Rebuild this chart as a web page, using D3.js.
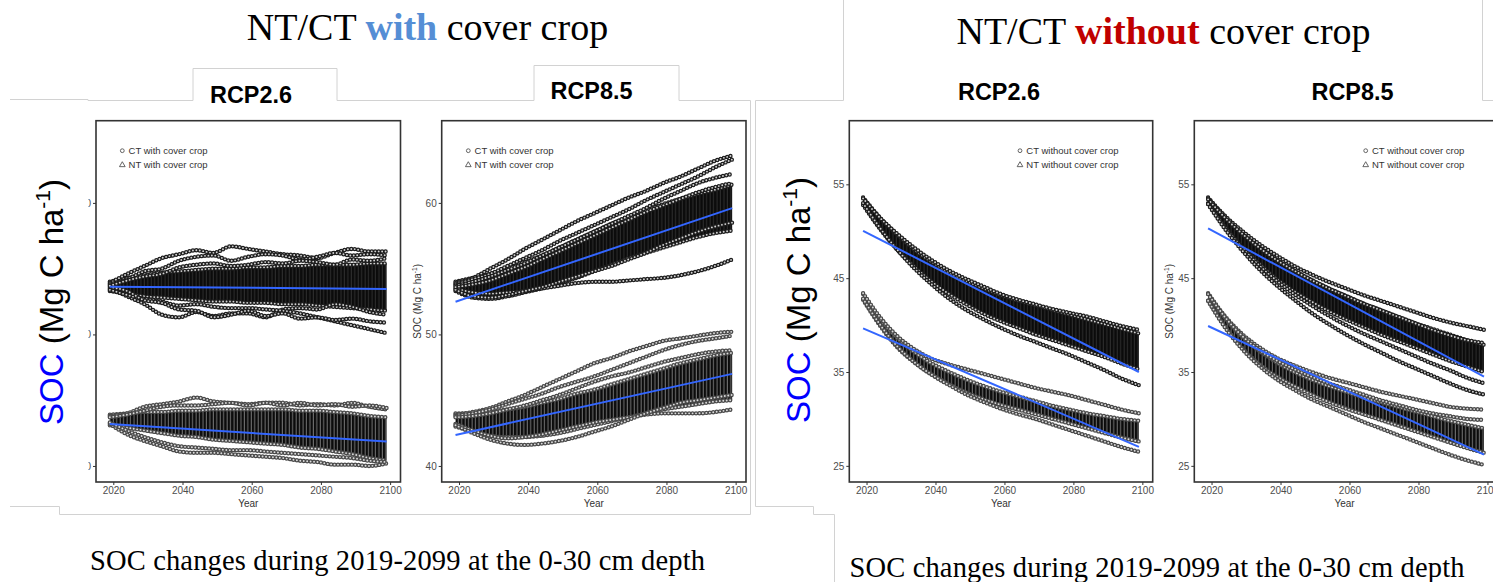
<!DOCTYPE html>
<html><head><meta charset="utf-8">
<script src="https://cdn.jsdelivr.net/npm/d3@7"></script>
<style>
body{margin:0;background:#fff;}
svg{display:block;}
</style></head><body>
<svg id="c" width="1493" height="582"></svg>
<script>
// ---------------- DATA ----------------
const years = [2019,2024,2029,2034,2039,2044,2049,2054,2059,2064,2069,2074,2079,2084,2089,2094,2099];
const fitYears = [2019, 2099];
const xTicks = [2020,2040,2060,2080,2100];
const yTicksWith = [40,50,60];
const yTicksWithout = [25,35,45,55];

// Panel 1 : with cover crop, RCP2.6
const p1NtLo = [53.3,53.1,52.9,52.8,52.7,52.6,52.5,52.5,52.4,52.4,52.3,52.3,52.2,52.1,52.0,51.9,51.8];
const p1NtHi = [54.0,54.3,54.5,54.7,54.8,54.9,55.0,55.0,55.1,55.1,55.2,55.2,55.3,55.3,55.3,55.4,55.4];
const p1NtLines = [
 [53.9,54.6,55.2,55.8,56.1,56.4,56.2,56.7,56.5,56.3,56.1,56.0,55.8,56.2,56.5,56.3,56.3],
 [53.8,54.2,54.8,55.0,55.6,55.9,56.0,55.6,55.9,56.1,56.0,55.7,55.9,56.2,56.0,56.1,56.0],
 [53.5,52.9,52.3,51.5,51.3,51.7,51.4,51.6,51.6,51.3,51.9,52.0,51.9,52.3,52.1,51.7,51.5],
 [53.4,53.0,52.7,52.5,52.2,52.3,52.1,52.0,52.0,51.9,51.8,51.6,51.3,51.0,50.7,50.4,50.1],
 [53.6,53.3,52.6,52.4,51.9,51.8,51.3,51.5,51.8,51.4,51.6,51.2,51.3,51.1,51.2,51.0,50.9],
 [53.7,54.1,54.4,54.6,55.1,55.3,55.4,55.2,55.3,55.5,55.4,55.6,55.5,55.3,55.7,55.6,55.8]
];
const p1NtFit = [53.63,53.46];
const p1CtLo = [43.1,42.9,42.7,42.5,42.3,42.2,42.0,41.9,41.8,41.7,41.6,41.4,41.3,41.1,40.9,40.6,40.4];
const p1CtHi = [43.9,44.0,44.1,44.1,44.2,44.2,44.3,44.3,44.3,44.3,44.3,44.2,44.2,44.1,44.0,43.8,43.7];
const p1CtLines = [
 [43.8,44.0,44.5,44.7,44.9,45.2,44.9,44.8,44.7,44.8,44.8,44.6,44.7,44.6,44.8,44.5,44.3],
 [43.7,43.9,44.2,44.5,44.6,44.6,44.7,44.8,44.6,44.8,44.6,44.8,44.6,44.7,44.5,44.6,44.4],
 [43.2,42.4,41.9,41.5,41.1,41.0,41.0,40.9,40.8,40.7,40.6,40.4,40.3,40.1,40.1,40.0,40.2],
 [43.3,42.7,42.2,41.8,41.5,41.4,41.3,41.2,41.2,41.1,41.0,40.9,40.8,40.7,40.6,40.4,40.3]
];
const p1CtFit = [43.19,41.85];

// Panel 2 : with cover crop, RCP8.5
const p2NtLo = [53.3,52.8,52.7,52.9,53.2,53.5,53.9,54.3,54.8,55.3,55.8,56.2,56.6,57.0,57.4,57.7,57.9];
const p2NtHi = [54.0,54.3,54.6,55.0,55.5,56.0,56.6,57.2,57.8,58.4,58.9,59.4,59.9,60.3,60.7,61.0,61.4];
const p2NtLines = [
 [53.9,54.3,55.0,55.7,56.5,57.2,57.9,58.6,59.2,59.8,60.4,60.9,61.5,62.0,62.6,63.2,63.6],
 [53.8,54.2,54.6,55.2,55.8,56.4,57.1,57.7,58.3,58.9,59.5,60.2,60.8,61.4,62.0,62.7,63.3],
 [53.7,54.0,54.4,54.9,55.4,56.0,56.6,57.2,57.8,58.4,59.0,59.6,60.3,60.9,61.5,61.9,62.2],
 [53.5,53.2,53.1,53.2,53.3,53.5,53.7,53.9,54.0,54.0,54.1,54.2,54.3,54.5,54.8,55.2,55.7],
 [53.4,52.9,52.8,53.0,53.3,53.6,54.0,54.4,54.8,55.2,55.7,56.2,56.8,57.3,57.8,58.2,58.5],
 [53.6,53.8,54.1,54.6,55.1,55.7,56.3,56.9,57.5,58.1,58.7,59.3,59.8,60.3,60.8,61.2,61.5]
];
const p2NtFit = [52.49,59.6];
const p2CtLo = [43.0,42.6,42.3,42.2,42.2,42.3,42.5,42.8,43.1,43.4,43.7,44.0,44.3,44.5,44.7,44.9,45.0];
const p2CtHi = [44.0,44.0,44.1,44.3,44.5,44.8,45.1,45.5,45.8,46.2,46.6,47.0,47.4,47.8,48.1,48.4,48.6];
const p2CtLines = [
 [43.9,44.1,44.4,44.9,45.4,46.0,46.6,47.2,47.8,48.2,48.7,49.1,49.5,49.7,49.9,50.1,50.2],
 [43.8,44.0,44.3,44.7,45.1,45.5,46.0,46.4,46.8,47.3,47.8,48.3,48.8,49.2,49.5,49.7,49.9],
 [43.7,43.8,44.0,44.3,44.6,45.0,45.4,45.9,46.4,46.8,47.1,47.5,47.9,48.2,48.5,48.7,48.8],
 [43.2,42.7,42.3,42.1,42.2,42.4,42.7,43.0,43.3,43.5,43.7,43.9,44.0,44.0,44.0,44.1,44.3],
 [43.1,42.5,42.0,41.7,41.6,41.7,41.9,42.2,42.6,43.0,43.5,44.0,44.4,44.8,45.0,45.2,45.4]
];
const p2CtFit = [42.36,47.0];

// Panel 3 : without cover crop, RCP2.6
const p3NtLo = [52.8,50.2,48.0,46.2,44.6,43.3,42.2,41.2,40.4,39.7,39.0,38.4,37.8,37.2,36.6,35.9,35.3];
const p3NtHi = [53.6,51.4,49.6,48.0,46.7,45.6,44.7,43.9,43.2,42.6,42.1,41.6,41.1,40.6,40.1,39.6,39.1];
const p3NtLines = [
 [53.0,50.3,48.0,46.0,44.3,42.8,41.6,40.6,39.7,38.9,38.2,37.5,36.8,36.0,35.2,34.3,33.6],
 [53.5,51.4,49.7,48.2,46.9,45.8,44.9,44.1,43.3,42.7,42.2,41.7,41.3,40.9,40.4,39.9,39.5]
];
const p3NtFit = [50.05,35.0];
const p3CtLo = [42.7,39.9,37.6,36.0,34.7,33.7,32.8,32.1,31.5,31.0,30.5,30.0,29.5,29.0,28.5,28.0,27.6];
const p3CtHi = [43.3,40.6,38.6,37.1,35.9,35.0,34.2,33.5,32.9,32.4,31.9,31.4,31.0,30.6,30.3,30.0,29.8];
const p3CtLines = [
 [43.4,40.8,38.8,37.4,36.4,35.8,35.3,34.8,34.3,33.8,33.3,32.9,32.5,32.0,31.5,31.0,30.6],
 [42.8,40.0,37.7,36.0,34.7,33.6,32.6,31.8,31.1,30.5,30.0,29.4,28.8,28.2,27.6,27.0,26.5]
];
const p3CtFit = [39.65,27.03];

// Panel 4 : without cover crop, RCP8.5
const p4NtLo = [52.9,50.4,48.3,46.5,44.9,43.6,42.5,41.5,40.6,39.8,39.0,38.3,37.6,36.9,36.2,35.6,35.0];
const p4NtHi = [53.6,51.5,49.7,48.2,46.9,45.8,44.8,43.9,43.1,42.3,41.6,40.9,40.2,39.6,39.0,38.4,37.9];
const p4NtLines = [
 [53.5,51.6,50.0,48.6,47.4,46.3,45.4,44.6,43.9,43.2,42.6,42.0,41.4,40.8,40.3,39.9,39.5],
 [53.4,51.4,49.7,48.2,46.9,45.8,44.8,43.9,43.1,42.3,41.6,40.9,40.2,39.5,38.9,38.4,38.1],
 [53.0,50.4,48.2,46.3,44.7,43.3,42.1,41.0,40.0,39.1,38.3,37.5,36.7,35.9,35.2,34.4,33.8],
 [52.9,50.2,47.9,45.9,44.2,42.7,41.3,40.1,39.0,38.0,37.1,36.2,35.4,34.6,33.8,33.1,32.6]
];
const p4NtFit = [50.3,34.5];
const p4CtLo = [42.6,39.8,37.5,35.8,34.5,33.5,32.6,31.8,31.1,30.5,29.9,29.3,28.7,28.1,27.5,26.9,26.4];
const p4CtHi = [43.3,40.7,38.7,37.2,36.0,35.0,34.2,33.5,32.9,32.3,31.8,31.3,30.8,30.3,29.8,29.4,29.0];
const p4CtLines = [
 [43.4,40.9,39.0,37.6,36.5,35.7,35.0,34.4,33.9,33.4,32.9,32.5,32.1,31.7,31.3,31.1,31.0],
 [43.3,40.8,38.8,37.3,36.2,35.3,34.5,33.8,33.2,32.6,32.0,31.5,31.0,30.6,30.3,30.0,29.9],
 [42.6,39.7,37.4,35.6,34.2,33.1,32.1,31.3,30.5,29.7,29.0,28.3,27.6,26.9,26.2,25.6,25.1]
];
const p4CtFit = [39.9,26.2];

const legendWith = ["CT with cover crop","NT with cover crop"];
const legendWithout = ["CT without cover crop","NT without cover crop"];

// ---------------- DRAWING ----------------
const svg = d3.select("#c");
const SANS = "'Liberation Sans', Arial, sans-serif";
const SERIF = "'Liberation Serif', 'Times New Roman', serif";
const defs = svg.append("defs");

function makePattern(id, bg, stripe){
  const p = defs.append("pattern").attr("id", id).attr("patternUnits","userSpaceOnUse")
    .attr("width", 3.45).attr("height", 8);
  p.append("rect").attr("width",3.45).attr("height",8).attr("fill",bg);
  p.append("rect").attr("x",2.4).attr("width",0.9).attr("height",8).attr("fill",stripe);
}
makePattern("patNT","#0b0b0b","#333");
makePattern("patCT","#0b0b0b","#808080");

// decorative frame lines
const frame = svg.append("g").attr("fill","none").attr("stroke","#d2d2d2").attr("stroke-width",1);
[
 "M10,99.5 H88 V100.5 H193 V68.5 H337 V100.5 H534 V65.5 H679 V100.5 H750.5 V514.5 H59.5 V506.5 H10",
 "M755.5,100.5 V506.5 H813.5 V514.5 H834.5 V582",
 "M755.5,100.5 H843.5 V0",
 "M1482.5,0 V100.5 H1493"
].forEach(d => frame.append("path").attr("d", d));

const TOP = 120.7, BOT = 482;

const panels = [
 {left:96, right:400.5, yDom:[38.78,66.25], yTicks:yTicksWith,
  nt:{lo:p1NtLo,hi:p1NtHi,lines:p1NtLines,fit:p1NtFit},
  ct:{lo:p1CtLo,hi:p1CtHi,lines:p1CtLines,fit:p1CtFit},
  legend:legendWith, legX:122.3, yTitle:false, clipYLabels:88.5},
 {left:441.7, right:746, yDom:[38.78,66.25], yTicks:yTicksWith,
  nt:{lo:p2NtLo,hi:p2NtHi,lines:p2NtLines,fit:p2NtFit},
  ct:{lo:p2CtLo,hi:p2CtHi,lines:p2CtLines,fit:p2CtFit},
  legend:legendWith, legX:468.3, yTitle:true},
 {left:849.3, right:1152.7, yDom:[23.28,61.78], yTicks:yTicksWithout,
  nt:{lo:p3NtLo,hi:p3NtHi,lines:p3NtLines,fit:p3NtFit},
  ct:{lo:p3CtLo,hi:p3CtHi,lines:p3CtLines,fit:p3CtFit},
  legend:legendWithout, legX:1020, yTitle:false},
 {left:1194.3, right:1497.8, yDom:[23.28,61.78], yTicks:yTicksWithout,
  nt:{lo:p4NtLo,hi:p4NtHi,lines:p4NtLines,fit:p4NtFit},
  ct:{lo:p4CtLo,hi:p4CtHi,lines:p4CtLines,fit:p4CtFit},
  legend:legendWithout, legX:1365.7, yTitle:true}
];

panels.forEach((P, idx) => {
  const x = d3.scaleLinear().domain([2015,2103]).range([P.left, P.right]);
  const y = d3.scaleLinear().domain(P.yDom).range([BOT, TOP]);
  const cid = "clip" + idx;
  defs.append("clipPath").attr("id", cid).append("rect")
    .attr("x", P.left+1).attr("y", TOP+1).attr("width", P.right-P.left-2).attr("height", BOT-TOP-2);
  const g = svg.append("g").attr("clip-path", `url(#${cid})`);

  const line = d3.line().x((d,i)=>x(years[i])).y(d=>y(d)).curve(d3.curveMonotoneX);
  const area = d3.area().x((d,i)=>x(years[i])).y0((d,i)=>y(d[0])).y1(d=>y(d[1])).curve(d3.curveMonotoneX);

  function ring(vals, col){
    g.append("path").attr("d", line(vals)).attr("fill","none")
      .attr("stroke", col).attr("stroke-width", 4.4).attr("stroke-linecap","round")
      .attr("stroke-dasharray","0 3.45");
    g.append("path").attr("d", line(vals)).attr("fill","none")
      .attr("stroke", "#fff").attr("stroke-opacity",0.8).attr("stroke-width", 1.9).attr("stroke-linecap","round")
      .attr("stroke-dasharray","0 3.45");
  }

  function group(G, pat, col){
    const bandData = G.lo.map((v,i)=>[v, G.hi[i]]);
    g.append("path").attr("d", area(bandData)).attr("fill", `url(#${pat})`);
    ring(G.lo, col); ring(G.hi, col);
    G.lines.forEach(l => ring(l, col));
  }
  group(P.ct, "patCT", "#4a4a4a");
  group(P.nt, "patNT", "#1e1e1e");

  // linear fits
  const fitLine = d3.line().x((d,i)=>x(fitYears[i])).y(d=>y(d));
  [P.nt.fit, P.ct.fit].forEach(f => {
    svg.append("path").attr("d", fitLine(f)).attr("fill","none")
      .attr("stroke","#3366ff").attr("stroke-width",2);
  });

  // border
  svg.append("rect").attr("x",P.left).attr("y",TOP).attr("width",P.right-P.left).attr("height",BOT-TOP)
    .attr("fill","none").attr("stroke","#333").attr("stroke-width",1.6);

  // axes
  const gx = svg.append("g").attr("transform",`translate(0,${BOT})`)
    .call(d3.axisBottom(x).tickValues(xTicks).tickSize(3).tickPadding(2).tickFormat(d3.format("d")));
  gx.select(".domain").remove();
  gx.selectAll("line").attr("stroke","#333");
  gx.selectAll("text").attr("fill","#4d4d4d").attr("font-size",10).attr("font-family",SANS);

  const gy = svg.append("g").attr("transform",`translate(${P.left},0)`)
    .call(d3.axisLeft(y).tickValues(P.yTicks).tickSize(3).tickPadding(2));
  gy.select(".domain").remove();
  gy.selectAll("line").attr("stroke","#333");
  gy.selectAll("text").attr("fill","#4d4d4d").attr("font-size",10).attr("font-family",SANS);
  if (P.clipYLabels){
    defs.append("clipPath").attr("id","cy"+idx).append("rect")
      .attr("x", P.clipYLabels - P.left).attr("y", 0).attr("width", 40).attr("height", 582);
    gy.attr("clip-path", `url(#cy${idx})`);
  }

  svg.append("text").attr("x",(P.left+P.right)/2 - (idx===3?1.5:0)).attr("y",507)
    .attr("text-anchor","middle").attr("font-size",10).attr("font-family",SANS).attr("fill","#333")
    .text("Year");

  if (P.yTitle){
    const t = svg.append("text").attr("transform",`translate(${P.left-21},${(TOP+BOT)/2}) rotate(-90)`)
      .attr("text-anchor","middle").attr("font-size",10).attr("font-family",SANS).attr("fill","#333");
    t.append("tspan").text("SOC (Mg C ha");
    t.append("tspan").attr("dy",-4).attr("font-size",6.5).text("-1");
    t.append("tspan").attr("dy",4).text(")");
  }

  // legend
  const lg = svg.append("g");
  const rows = [150.7, 165];
  lg.append("circle").attr("cx",P.legX).attr("cy",rows[0]).attr("r",1.9)
    .attr("fill","none").attr("stroke","#555").attr("stroke-width",0.9);
  lg.append("path").attr("d", d3.symbol(d3.symbolTriangle, 14)())
    .attr("transform",`translate(${P.legX},${rows[1]})`)
    .attr("fill","none").attr("stroke","#555").attr("stroke-width",0.9);
  P.legend.forEach((s,i) => {
    lg.append("text").attr("x",P.legX+6.3).attr("y",rows[i]+3.3)
      .attr("font-size",9.5).attr("font-family",SANS).attr("fill","#333").text(s);
  });
});

// big y labels
function bigLabel(xb, yc){
  const t = svg.append("text").attr("transform",`translate(${xb},${yc}) rotate(-90)`)
    .attr("text-anchor","middle").attr("font-size",33).attr("font-family",SANS).attr("fill","#000");
  t.append("tspan").attr("fill","#0000ff").text("SOC");
  t.append("tspan").text(" (Mg C ha");
  t.append("tspan").attr("dy",-13).attr("font-size",21).text("-1");
  t.append("tspan").attr("dy",13).text(")");
}
bigLabel(63, 302);
bigLabel(810, 300);

// titles
function title(xc, yb, word, col){
  const t = svg.append("text").attr("x",xc).attr("y",yb).attr("text-anchor","middle")
    .attr("font-size",38).attr("font-family",SERIF).attr("fill","#000");
  t.append("tspan").text("NT/CT ");
  t.append("tspan").attr("font-weight","bold").attr("fill",col).text(word);
  t.append("tspan").text(" cover crop");
}
title(427.5, 40, "with", "#558ed5");
title(1163.5, 44, "without", "#c00000");

// RCP labels
[["RCP2.6",251,103],["RCP8.5",591.5,99],["RCP2.6",999,100],["RCP8.5",1352.5,100]].forEach(r => {
  svg.append("text").attr("x",r[1]).attr("y",r[2]).attr("text-anchor","middle")
    .attr("font-size",24).attr("font-weight","bold").attr("font-family",SANS).attr("fill","#000")
    .attr("textLength",82).attr("lengthAdjust","spacingAndGlyphs").text(r[0]);
});

// captions
[[397.5,570],[1157,577]].forEach(c => {
  svg.append("text").attr("x",c[0]).attr("y",c[1]).attr("text-anchor","middle")
    .attr("font-size",28.5).attr("font-family",SERIF).attr("fill","#000")
    .attr("textLength",615).attr("lengthAdjust","spacing")
    .text("SOC changes during 2019-2099 at the 0-30 cm depth");
});
</script>
</body></html>
